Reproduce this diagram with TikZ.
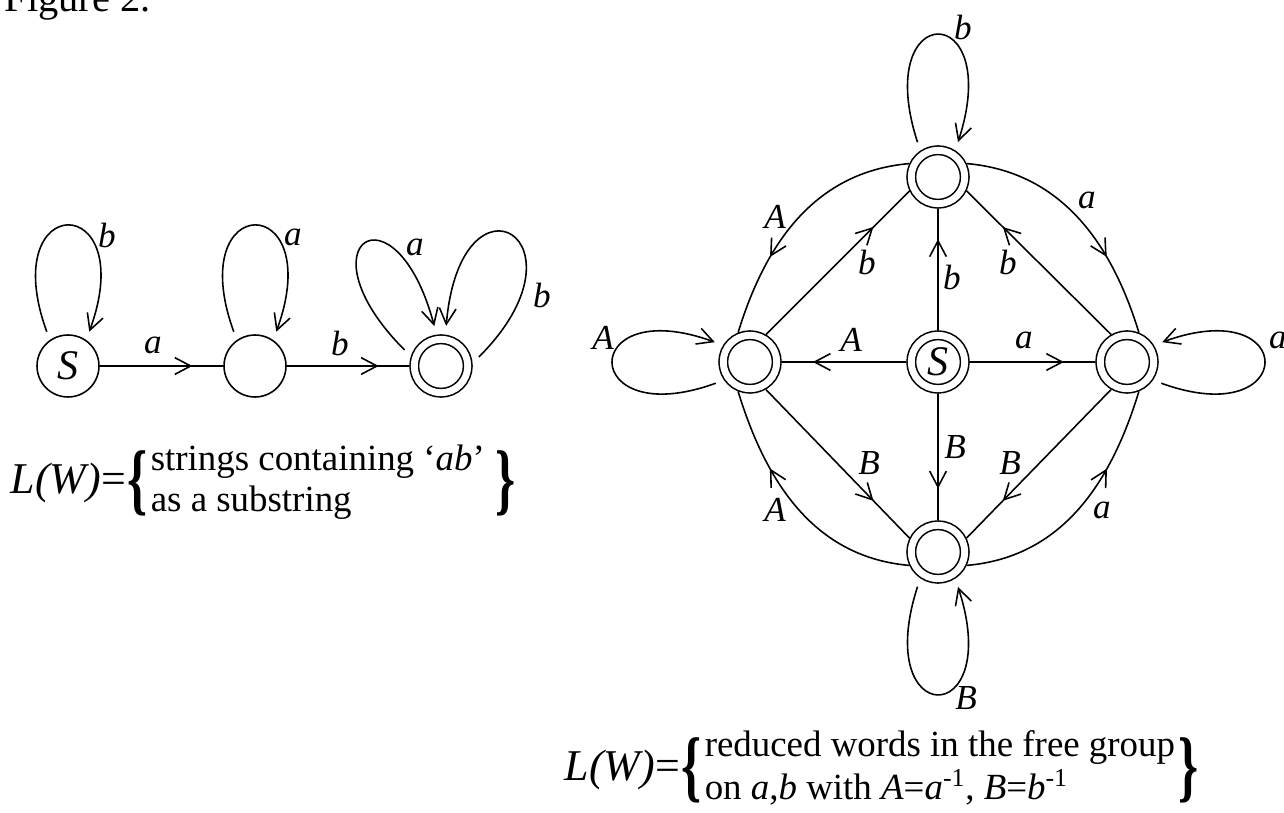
\documentclass[tikz,border=0pt]{standalone}
\usepackage{fontspec}
\setmainfont{Liberation Serif}
\usetikzlibrary{arrows.meta,decorations.markings}

\begin{document}
\begin{tikzpicture}[x=0.02cm, y=0.02cm, line width=0.9pt, >={Straight Barb[length=9pt,width=9.5pt]}]
        \tikzstyle{state}=[circle, draw=black, minimum size=1.24cm, inner sep=0pt, font=\fontsize{24}{24}\selectfont\itshape]
        \tikzstyle{accept}=[state, double, double distance=0.138cm, minimum size=1.07cm, outer sep=0.1cm]
        \tikzstyle{lbl}=[inner sep=0pt, font=\fontsize{20}{20}\selectfont\itshape]
        \tikzstyle{edge}=[postaction={decorate}, decoration={markings, mark=at position 0.75 with {\arrow{>}}}]
        \tikzstyle{bentedge}=[postaction={decorate}, decoration={markings, mark=at position 0.68 with {\arrow{>}}}]
        \tikzstyle{selfedge}=[->, shorten <=5pt, shorten >=5pt]
        \tikzstyle{formula}=[anchor=west, inner sep=0pt, font=\fontsize{21}{23}\selectfont]
        \tikzstyle{brace}=[inner sep=0pt, font=\fontsize{29}{29}\selectfont\bfseries, yscale=1.55, transform shape]
        \tikzstyle{lw}=[anchor=east, inner sep=0pt, font=\fontsize{25}{25}\selectfont]

        \useasboundingbox (0,0) rectangle (1284,812);
        \node[anchor=base west, inner sep=0pt, font=\fontsize{23}{23}\selectfont] (cap) at (4,800) {Figure 2.};

        \node[state]  (s0) at (68,446)  {S};
        \node[state]  (q1) at (255,446) {};
        \node[accept] (q2) at (441,446) {};

        \node[accept] (top) at (938,635) {};
        \node[accept] (lft) at (750,450) {};
        \node[accept] (ctr) at (938,450) {S};
        \node[accept] (rgt) at (1127,450) {};
        \node[accept] (bot) at (938,260) {};

        \draw[edge] (s0) -- (q1);
        \draw[edge] (q1) -- (q2);
        \draw[selfedge] (s0.125) to[out=110, in=70, distance=3.2cm] (s0.55);
        \draw[selfedge] (q1.125) to[out=110, in=70, distance=3.2cm] (q1.55);
        \draw[selfedge] (q2.162) to[out=135, in=105, distance=3.2cm] (q2.98);
        \draw[selfedge] (q2.5) to[out=45, in=85, distance=3.5cm] (q2.82);

        \draw[edge] (ctr) -- (top);
        \draw[edge] (ctr) -- (lft);
        \draw[edge] (ctr) -- (rgt);
        \draw[edge] (ctr) -- (bot);
        \draw[edge] (lft.60) -- (top.206);
        \draw[edge] (rgt.120) -- (top.334);
        \draw[edge] (lft.-60) -- (bot.154);
        \draw[edge] (rgt.240) -- (bot.26);

        \draw[bentedge] (top.155) to[out=185, in=73] (lft.112);
        \draw[bentedge] (top.25) to[out=-5, in=107] (rgt.68);
        \draw[bentedge] (bot.205) to[out=175, in=-73] (lft.248);
        \draw[bentedge] (bot.335) to[out=5, in=-107] (rgt.292);

        \draw[selfedge] (top.124) to[out=108, in=72, distance=3.2cm] (top.57);
        \draw[selfedge] (bot.236) to[out=252, in=288, distance=3.2cm] (bot.303);
        \draw[selfedge] (lft.215) to[out=200, in=160, distance=3.1cm] (lft.148);
        \draw[selfedge] (rgt.325) to[out=-20, in=20, distance=3.1cm] (rgt.32);

        \node[lbl] (l1) at (153,467)  {a};
        \node[lbl] (l2) at (340,469)  {b};
        \node[lbl] (l3) at (107,577)  {b};
        \node[lbl] (l4) at (293,575)  {a};
        \node[lbl] (l5) at (415,565)  {a};
        \node[lbl] (l6) at (542,517)  {b};

        \node[lbl] (r1)  at (963,785)  {b};
        \node[lbl] (r2)  at (775,595)  {A};
        \node[lbl] (r3)  at (1087,612) {a};
        \node[lbl] (r4)  at (867,550)  {b};
        \node[lbl] (r5)  at (952,535)  {b};
        \node[lbl] (r6)  at (1008,550) {b};
        \node[lbl] (r7)  at (603,474)  {A};
        \node[lbl] (r8)  at (851,472)  {A};
        \node[lbl] (r9)  at (1024,472) {a};
        \node[lbl] (r10) at (1278,472) {a};
        \node[lbl] (r11) at (869,349)  {B};
        \node[lbl] (r12) at (955,365)  {B};
        \node[lbl] (r13) at (1010,349) {B};
        \node[lbl] (r14) at (775,302)  {A};
        \node[lbl] (r15) at (1102,302) {a};
        \node[lbl] (r16) at (966,114)  {B};

        \node[formula] (txt1) at (150,329) {\begin{tabular}{@{}l@{}}strings containing ‘\textit{ab}’\\ as a substring\end{tabular}};
        \node[brace, anchor=east] (ob1) at ([xshift=-1pt]txt1.west) {\{};
        \node[brace, anchor=west] (cb1) at ([xshift=5pt]txt1.east) {\}};
        \node[lw] (lw1) at (ob1.west) {\textit{L(W)}=};

        \node[formula] (txt2) at (704,42) {\begin{tabular}{@{}l@{}}reduced words in the free group\\ on \textit{a},\textit{b} with \textit{A}=\textit{a}\textsuperscript{-1}, \textit{B}=\textit{b}\textsuperscript{-1}\end{tabular}};
        \node[brace, anchor=east] (ob2) at ([xshift=-1pt]txt2.west) {\{};
        \node[brace, anchor=west] (cb2) at ([xshift=1pt]txt2.east) {\}};
        \node[lw] (lw2) at (ob2.west) {\textit{L(W)}=};
    \end{tikzpicture}
\end{document}
